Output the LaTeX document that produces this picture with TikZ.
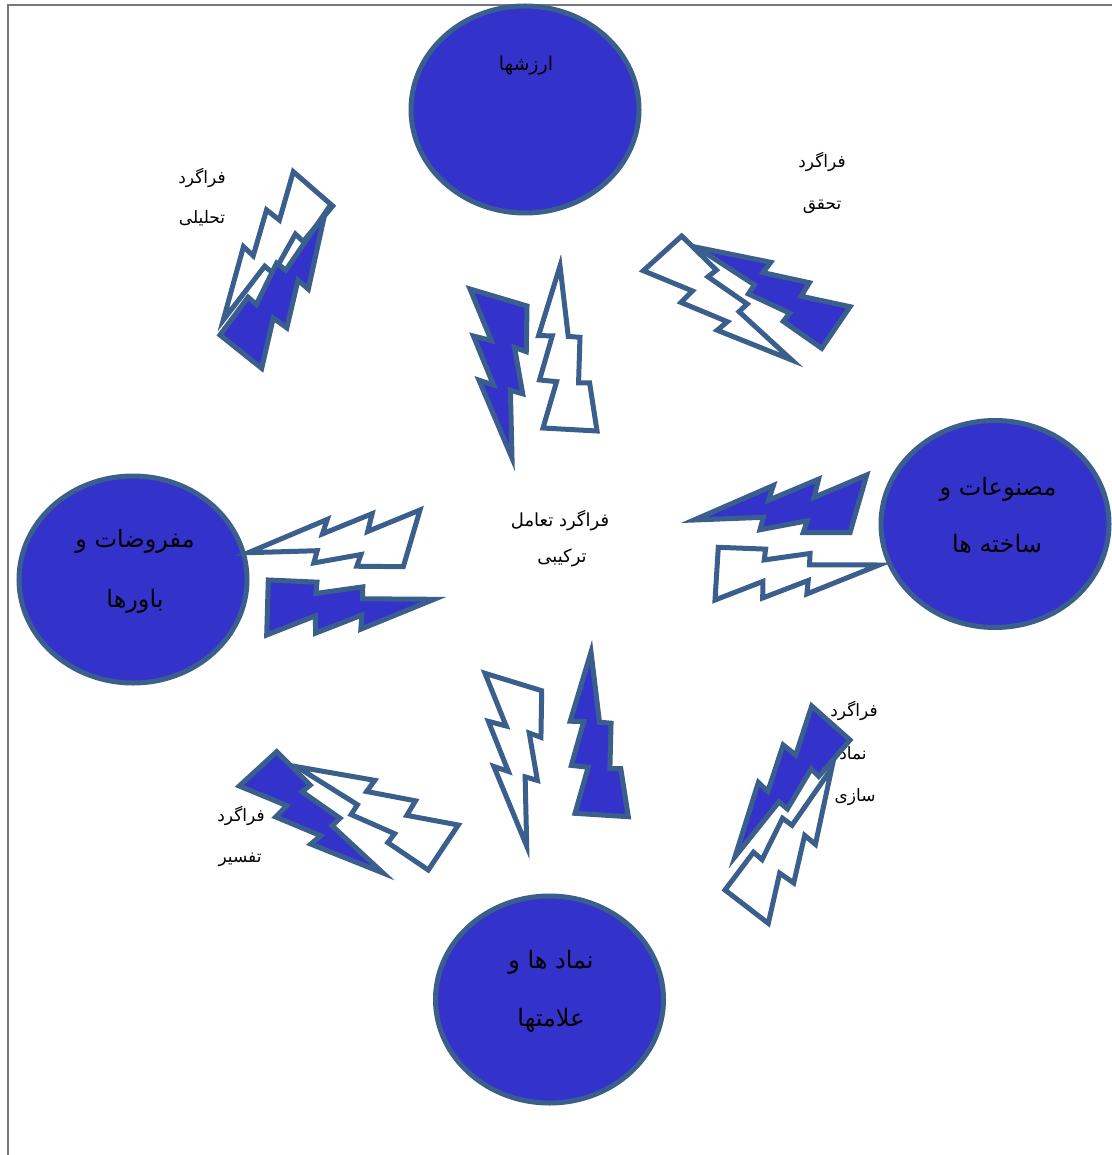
\documentclass[tikz,border=0pt]{standalone}
\usepackage{fontspec}
\newfontfamily\fa[Script=Arabic]{DejaVu Sans}
\TeXXeTstate=1
\usetikzlibrary{calc,shapes.geometric}
\definecolor{bfill}{RGB}{51,51,204}
\definecolor{bedge}{RGB}{58,95,140}
\definecolor{framegray}{RGB}{120,120,120}
\newcommand{\fat}[1]{\beginR #1\endR}
% Office lightning bolt mapped by three points: base-top, base-left, tip
\newcommand{\lbolt}[4]{%
  \coordinate (bT) at #2; \coordinate (bL) at #3; \coordinate (bP) at #4;
  \coordinate (bU) at ($1.993306*(bT) - 1.993306*(bL) + 0.358984*(bP) - 0.358984*(bT)$);
  \coordinate (bV) at ($(bP) - (bT) - 0.607778*(bU)$);
  \coordinate (bO) at ($(bT) - 0.392222*(bU)$);
  \draw[#1] ($(bO)+0.392222*(bU)$)
    -- ($(bO)+0.595370*(bU)+0.281481*(bV)$)
    -- ($(bO)+0.511574*(bU)+0.314676*(bV)$)
    -- ($(bO)+0.767454*(bU)+0.555880*(bV)$)
    -- ($(bO)+0.683657*(bU)+0.596157*(bV)$)
    -- ($(bO)+(bU)+(bV)$)
    -- ($(bO)+0.463519*(bU)+0.690509*(bV)$)
    -- ($(bO)+0.565833*(bU)+0.647546*(bV)$)
    -- ($(bO)+0.232500*(bU)+0.449306*(bV)$)
    -- ($(bO)+0.351944*(bU)+0.388056*(bV)$)
    -- ($(bO)+0.180093*(bV)$) -- cycle;
}
\tikzset{
  filledbolt/.style={draw=bedge, fill=bfill, line width=5pt},
  whitebolt/.style={draw=bedge, fill=white, line width=5pt},
  blob/.style={ellipse, draw=bedge, fill=bfill, line width=5pt,
    minimum width=228pt, minimum height=207pt, inner sep=0pt},
  lbl/.style={font=\fa\fontsize{17}{20}\selectfont, text=black, inner sep=0pt},
  mid/.style={font=\fa\fontsize{18}{21}\selectfont, text=black, inner sep=0pt},
  big/.style={font=\fa\fontsize{24}{28}\selectfont, text=black, inner sep=0pt},
}
\begin{document}
\begin{tikzpicture}[x=1pt,y=-1pt]
\useasboundingbox[fill=white] (0,0) rectangle (1111,1155);
\draw[framegray, line width=2pt] (8,1156) -- (8,5) -- (1112,5);
% ellipses
\node[blob] (arz) at (525,109.5) {};
\node[blob] (mas) at (995,524) {};
\node[blob] (maf) at (133,579.5) {};
\node[blob] (nam) at (549.5,999.5) {};
% texts in ellipses
\node[mid, font=\fa\fontsize{19}{22}\selectfont] (t1) at (526,66) {\fat{ارزشها}};
\node[big] (t2a) at (998,489) {\fat{مصنوعات و}};
\node[big] (t2b) at (997,544) {\fat{ساخته ها}};
\node[big] (t3a) at (135,541) {\fat{مفروضات و}};
\node[big] (t3b) at (135,601) {\fat{باورها}};
\node[big] (t4a) at (551,962) {\fat{نماد ها و}};
\node[big] (t4b) at (551,1020) {\fat{علامتها}};
% centre
\node[mid] (c1) at (560,521) {\fat{فراگرد تعامل}};
\node[mid] (c2) at (562,558) {\fat{ترکیبی}};
% process labels
\node[lbl] (l1a) at (202,178) {\fat{فراگرد}};
\node[lbl] (l1b) at (202,218) {\fat{تحلیلی}};
\node[lbl] (l2a) at (822,162) {\fat{فراگرد}};
\node[lbl] (l2b) at (822,207) {\fat{تحقق}};
\node[lbl] (l3a) at (241,816) {\fat{فراگرد}};
\node[lbl] (l3b) at (240,860) {\fat{تفسیر}};
\node[lbl] (l4a) at (854,711) {\fat{فراگرد}};
\node[lbl] (l4b) at (853,753) {\fat{نماد}};
\node[lbl] (l4c) at (855,797) {\fat{سازی}};
% bolts: top
\lbolt{whitebolt}{(597,431)}{(543,428)}{(560,266)}
\lbolt{filledbolt}{(527,306)}{(470,289)}{(512,458)}
% top-left
\lbolt{whitebolt}{(332.7,206)}{(293.3,171.7)}{(223.3,320)}
\lbolt{filledbolt}{(220,335)}{(261.7,368.3)}{(325,213)}
% top-right
\lbolt{whitebolt}{(681.7,236)}{(643.3,270.7)}{(791.7,360)}
\lbolt{filledbolt}{(821.7,348.3)}{(850,306.7)}{(696.7,247.3)}
% left
\lbolt{whitebolt}{(403.3,566.7)}{(420,510)}{(248.3,552.7)}
\lbolt{filledbolt}{(268.3,580)}{(266.7,635)}{(434,599.3)}
% right
\lbolt{whitebolt}{(718.3,547.3)}{(715,600)}{(879,565)}
\lbolt{filledbolt}{(850,532.7)}{(866.7,475)}{(694,520)}
% bottom-left
\lbolt{whitebolt}{(428.3,870)}{(458.3,825)}{(296.7,766.7)}
\lbolt{filledbolt}{(276.7,751.7)}{(239.3,786)}{(383,873)}
% bottom
\lbolt{whitebolt}{(541.7,690.7)}{(485,673.3)}{(526.7,846)}
\lbolt{filledbolt}{(628.3,816.7)}{(575,813.3)}{(591,652)}
% bottom-right
\lbolt{whitebolt}{(725,890)}{(768.3,923.3)}{(831.7,768.3)}
\lbolt{filledbolt}{(850,740)}{(811.7,706)}{(735,856.7)}
\end{tikzpicture}
\end{document}
